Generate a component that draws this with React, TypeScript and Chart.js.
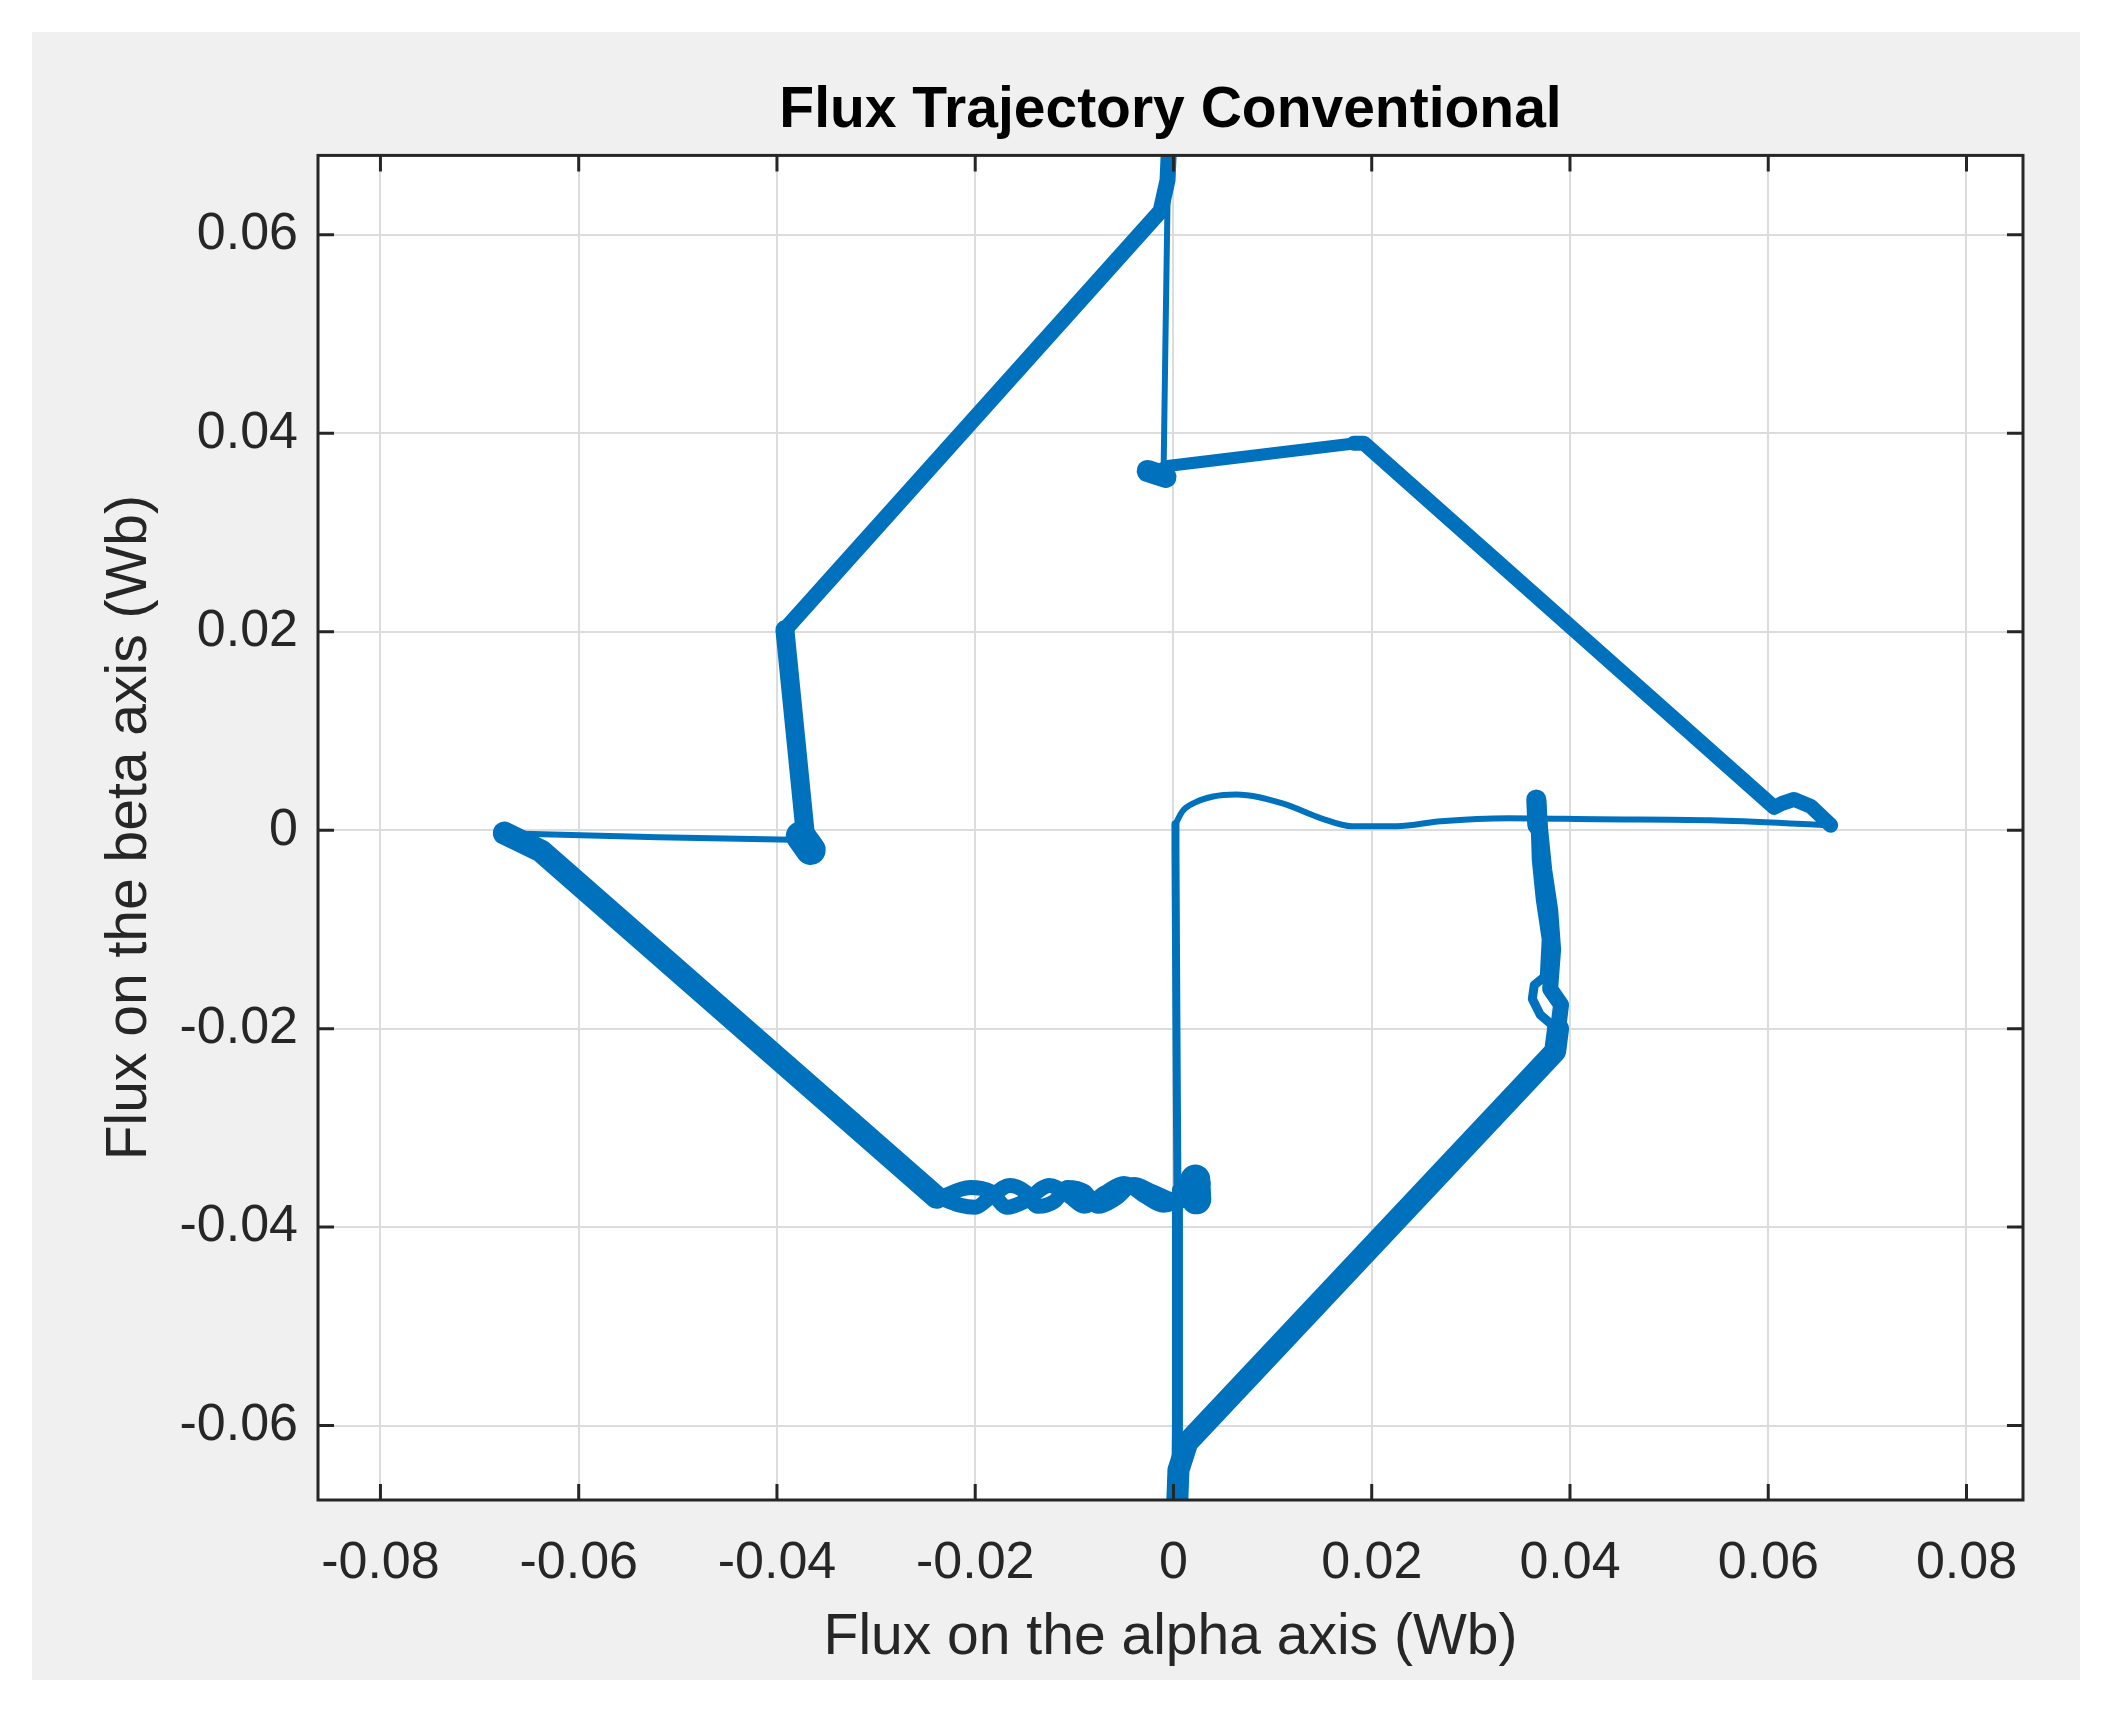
import React, { useEffect, useRef } from "react";
import { Chart, registerables } from "chart.js";

Chart.register(...registerables);

// ---------- data (Wb) ----------
const xTicks = [-0.08, -0.06, -0.04, -0.02, 0, 0.02, 0.04, 0.06, 0.08];
const xTickLabels = ["-0.08", "-0.06", "-0.04", "-0.02", "0", "0.02", "0.04", "0.06", "0.08"];
const yTicks = [-0.06, -0.04, -0.02, 0, 0.02, 0.04, 0.06];
const yTickLabels = ["-0.06", "-0.04", "-0.02", "0", "0.02", "0.04", "0.06"];
const xLimits = [-0.0863, 0.0857];
const yLimits = [-0.0675, 0.068];

const titleText = "Flux Trajectory Conventional";
const xLabel = "Flux on the alpha axis (Wb)";
const yLabel = "Flux on the beta axis (Wb)";

// trajectory pieces [alpha, beta]
const originDrop = [[0.0004, -0.0365], [0.0003, -0.02], [0.0002, -0.002], [0.0002, 0.0006]];
const originWave = [
  [0.0002, 0.0006], [0.0009, 0.0019], [0.0022, 0.0028], [0.004, 0.0034], [0.0063, 0.0036],
  [0.011, 0.0027], [0.0149, 0.0012], [0.018, 0.0004], [0.0225, 0.0004], [0.027, 0.0009],
  [0.0338, 0.0012], [0.0428, 0.0011], [0.0541, 0.001], [0.0663, 0.0005],
];
const neDiagonal = [
  [0.0663, 0.0005], [0.0643, 0.0024], [0.0626, 0.0031], [0.0614, 0.0027], [0.0606, 0.0023],
  [0.0192, 0.039], [0.0182, 0.039],
];
const topLink = [[0.0184, 0.039], [-0.0006, 0.0367], [-0.0018, 0.0362]];
const topBlob = [[-0.0026, 0.0362], [-0.0008, 0.0356]];
const topRise = [[-0.001, 0.036], [-0.0008, 0.05], [-0.0005, 0.07]];
const nwDiagonal = [[-0.0004, 0.07], [-0.0006, 0.0655], [-0.0013, 0.0624], [-0.0392, 0.0202]];
const leftDrop = [[-0.0392, 0.0202], [-0.0371, -0.0008]];
const leftBlob = [[-0.0376, -0.0006], [-0.0366, -0.002]];
const leftSpur = [[-0.0371, -0.001], [-0.052, -0.0007], [-0.0675, -0.0003]];
const swDiagonal = [[-0.0675, -0.0003], [-0.0638, -0.0021], [-0.0239, -0.037]];
const bottomWaveA = [
  [-0.0239, -0.0369], [-0.0215, -0.0378], [-0.02, -0.038], [-0.0185, -0.037], [-0.0165, -0.0358],
  [-0.015, -0.0364], [-0.0137, -0.0379], [-0.012, -0.0374], [-0.0107, -0.036], [-0.009, -0.0364],
  [-0.0076, -0.0379], [-0.0058, -0.0371], [-0.004, -0.0357], [-0.002, -0.0365], [0.0005, -0.0374],
  [0.0028, -0.0362],
];
const bottomWaveB = [
  [-0.0239, -0.0372], [-0.0205, -0.036], [-0.0185, -0.0364], [-0.0168, -0.038], [-0.015, -0.0374],
  [-0.0125, -0.0358], [-0.0105, -0.0369], [-0.009, -0.0379], [-0.007, -0.0366], [-0.005, -0.0356],
  [-0.003, -0.0368], [-0.001, -0.0378], [0.0015, -0.0366], [0.003, -0.0356],
];
const bottomBlob = [[0.0022, -0.0352], [0.0023, -0.0372]];
const bottomDrop = [[0.0004, -0.0362], [0.0004, -0.06], [0.0003, -0.07]];
const seDiagonal = [[0.0003, -0.07], [0.0005, -0.0645], [0.0014, -0.0617], [0.0385, -0.0223], [0.0388, -0.02]];
const rightRise = [
  [0.0388, -0.02], [0.0391, -0.0176], [0.038, -0.016], [0.0383, -0.012], [0.038, -0.008],
  [0.0374, -0.004], [0.037, 0.0], [0.0368, 0.003],
];
const rightRiseAlt = [
  [0.0384, -0.0198], [0.037, -0.0186], [0.0362, -0.017], [0.0364, -0.0156], [0.0374, -0.0148],
  [0.0376, -0.011], [0.037, -0.007], [0.0366, -0.003], [0.0364, 0.0032],
];
const rightBlob = [[0.0366, 0.0031], [0.0367, 0.0005]];

// ---------- styling ----------
const LINE = "#0072BD";
const AXIS = "#262626";
const FONT = "'Liberation Sans', Arial, Helvetica, sans-serif";

const toPts = (a: number[][]) => a.map(([x, y]) => ({ x, y }));

export default function App() {
  const ref = useRef<HTMLCanvasElement | null>(null);

  useEffect(() => {
    if (!ref.current) return;

    const pieces: { d: number[][]; w: number; smooth?: boolean }[] = [
      { d: originDrop, w: 8 },
      { d: originWave, w: 6, smooth: true },
      { d: neDiagonal, w: 15 },
      { d: topLink, w: 12 },
      { d: topBlob, w: 22 },
      { d: topRise, w: 6 },
      { d: nwDiagonal, w: 16 },
      { d: leftDrop, w: 19 },
      { d: leftBlob, w: 30 },
      { d: leftSpur, w: 6 },
      { d: swDiagonal, w: 23 },
      { d: bottomWaveA, w: 15, smooth: true },
      { d: bottomWaveB, w: 15, smooth: true },
      { d: bottomBlob, w: 30 },
      { d: bottomDrop, w: 11 },
      { d: seDiagonal, w: 22 },
      { d: rightRise, w: 16 },
      { d: rightRiseAlt, w: 9 },
      { d: rightBlob, w: 20 },
    ];

    const datasets = pieces.map((p) => ({
      data: toPts(p.d),
      showLine: true,
      borderColor: LINE,
      backgroundColor: LINE,
      borderWidth: p.w,
      pointRadius: 0,
      pointHoverRadius: 0,
      borderJoinStyle: "round" as const,
      borderCapStyle: "round" as const,
      tension: p.smooth ? 0.4 : 0,
      cubicInterpolationMode: p.smooth ? ("monotone" as const) : ("default" as const),
      fill: false,
    }));

    const frame = {
      id: "matlabFrame",
      beforeDraw(chart: any) {
        const { ctx, chartArea: a } = chart;
        ctx.save();
        ctx.fillStyle = "#ffffff";
        ctx.fillRect(a.left, a.top, a.right - a.left, a.bottom - a.top);
        ctx.restore();
      },
      afterDraw(chart: any) {
        const { ctx, chartArea: a, scales } = chart;
        const tl = 16;
        ctx.save();
        ctx.strokeStyle = AXIS;
        ctx.lineWidth = 3;
        ctx.strokeRect(a.left, a.top, a.right - a.left, a.bottom - a.top);
        ctx.beginPath();
        xTicks.forEach((v) => {
          const px = scales.x.getPixelForValue(v);
          ctx.moveTo(px, a.bottom);
          ctx.lineTo(px, a.bottom - tl);
          ctx.moveTo(px, a.top);
          ctx.lineTo(px, a.top + tl);
        });
        yTicks.forEach((v) => {
          const py = scales.y.getPixelForValue(v);
          ctx.moveTo(a.left, py);
          ctx.lineTo(a.left + tl, py);
          ctx.moveTo(a.right, py);
          ctx.lineTo(a.right - tl, py);
        });
        ctx.stroke();
        ctx.restore();
      },
    };

    const chart = new Chart(ref.current, {
      type: "scatter",
      data: { datasets },
      options: {
        responsive: false,
        animation: false,
        events: [],
        layout: { padding: { left: 0, right: 57, top: 0, bottom: 0 } },
        plugins: {
          legend: { display: false },
          tooltip: { enabled: false },
          title: {
            display: true,
            text: titleText,
            fullSize: false,
            color: "#000000",
            font: { family: FONT, size: 57, weight: "bold" },
            padding: { top: 45, bottom: 10 },
          },
        },
        scales: {
          x: {
            type: "linear",
            min: xLimits[0],
            max: xLimits[1],
            afterBuildTicks: (s: any) => {
              s.ticks = xTicks.map((v) => ({ value: v }));
            },
            afterFit: (s: any) => {
              s.height = 180;
            },
            grid: { color: "#dcdcdc", lineWidth: 2, drawTicks: false },
            border: { display: false },
            ticks: {
              color: AXIS,
              padding: 32,
              maxRotation: 0,
              autoSkip: false,
              font: { family: FONT, size: 52 },
              callback: (v: any) => {
                const i = xTicks.findIndex((t) => Math.abs(t - Number(v)) < 1e-9);
                return i >= 0 ? xTickLabels[i] : "";
              },
            },
            title: {
              display: true,
              text: xLabel,
              color: AXIS,
              font: { family: FONT, size: 57 },
              padding: { top: 0, bottom: 8 },
            },
          },
          y: {
            type: "linear",
            min: yLimits[0],
            max: yLimits[1],
            afterBuildTicks: (s: any) => {
              s.ticks = yTicks.map((v) => ({ value: v }));
            },
            afterFit: (s: any) => {
              s.width = 286;
            },
            grid: { color: "#dcdcdc", lineWidth: 2, drawTicks: false },
            border: { display: false },
            ticks: {
              color: AXIS,
              padding: 20,
              autoSkip: false,
              font: { family: FONT, size: 52 },
              callback: (v: any) => {
                const i = yTicks.findIndex((t) => Math.abs(t - Number(v)) < 1e-9);
                return i >= 0 ? yTickLabels[i] : "";
              },
            },
            title: {
              display: true,
              text: yLabel,
              color: AXIS,
              font: { family: FONT, size: 57 },
              padding: { top: 64, bottom: 0 },
            },
          },
        },
      },
      plugins: [frame],
    } as any);

    return () => chart.destroy();
  }, []);

  return (
    <div
      style={{
        position: "absolute",
        left: 32,
        top: 32,
        width: 2048,
        height: 1648,
        background: "#f0f0f0",
      }}
    >
      <canvas ref={ref} width={2048} height={1648} style={{ width: 2048, height: 1648, display: "block" }} />
    </div>
  );
}
